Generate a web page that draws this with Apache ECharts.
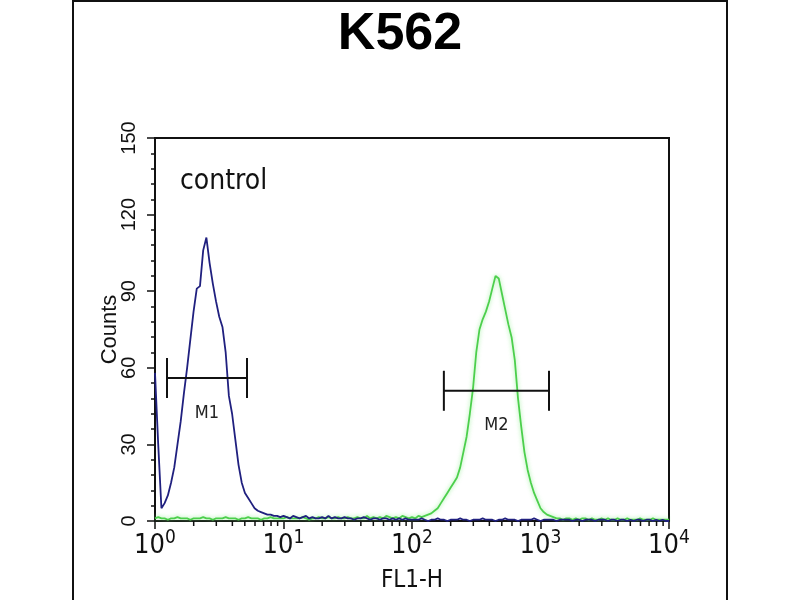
<!DOCTYPE html>
<html>
<head>
<meta charset="utf-8">
<title>K562</title>
<script src="https://cdn.jsdelivr.net/npm/echarts@6/dist/echarts.min.js"></script>
<style>
  html, body { margin: 0; padding: 0; background: #fff; }
  #main { width: 800px; height: 600px; }
</style>
</head>
<body>
<div id="main"></div>
<script>
// histogram channels: log-spaced, one every 0.025 decade from 10^0 to 10^4
var channelStep = 0.025;

var blueCounts = [
  58, 30, 5, 7, 10, 15, 21, 30, 39, 50,
  60, 71, 82, 91, 92, 106, 111, 101, 93, 86,
  80, 76, 66, 49, 42, 32, 22, 15, 11, 9,
  7, 5, 4, 3.5, 3, 2.5, 2.5, 2, 2, 1.5,
  2,
  1.5, 1, 2, 1.5, 1, 1.5, 2, 1, 1.5, 1, 1, 1.5, 1, 2, 1, 1.5, 1, 1, 1.5, 1,
  1, 0.5, 1, 1, 1.5, 1, 0.5, 1, 1, 0.5, 1, 1, 0.5, 1, 0.5, 1, 0.5, 1, 0.5, 0.5,
  0.5, 0.5, 1, 0.5, 0, 0.5, 0.5, 1, 0.5, 0.5,
  0, 0.5, 0.5, 0.5, 1, 0.5, 0.5, 0, 0.5, 0.5,
  0.5, 1, 0.5, 0.5, 0.5, 0, 0.5, 0.5, 1, 0.5,
  0.5, 0.5, 0, 0.5, 0.5, 0.5, 0.5, 1, 0.5, 0,
  0.5, 0.5, 0.5, 0.5, 0, 0.5, 0.5, 0.5, 0.5, 0,
  0.5, 0.5, 0, 0.5, 0.5, 0.5, 0, 0.5, 0.5, 0.5,
  0, 0.5, 0.5, 0, 0.5, 0.5, 0, 0.5, 0, 0.5,
  0.5, 0, 0.5, 0.5, 0, 0.5, 0, 0.5, 0, 0
];

var greenCounts = [
  1, 1.5, 1, 1, 0.5, 1, 1, 1.5, 1, 1,
  1, 0.5, 1, 1, 1, 1.5, 1, 1, 0.5, 1,
  1, 1, 1.5, 1, 1, 1, 0.5, 1, 1, 1.5,
  1, 1, 1, 0.5, 1, 1, 1.5, 1, 1, 1,
  1, 1.5, 1, 1, 1, 1, 1.5, 1, 0.5, 1,
  1, 1.5, 1, 1, 1.5, 1, 1, 1.5, 1, 1,
  1.5, 1, 1, 1.5, 1, 1, 2, 1, 1.5, 1,
  1.5, 1, 2, 1.5, 1, 1.5, 1, 2, 1.5, 1,
  1.5, 1, 2, 1.5, 2, 2.5, 3, 4, 5, 7,
  9, 11, 13, 15, 17, 21, 27, 33, 42, 52,
  66, 75, 79, 82, 86, 91, 96, 95, 89, 83,
  77, 72, 63, 48, 37, 27, 20, 15, 11, 8,
  5, 3.5, 2.5, 2, 1.5,
  1, 1, 0.5, 1, 1, 0.5, 1, 0.5, 1, 1,
  0.5, 1, 0.5, 0.5, 1, 0.5, 1, 0.5, 0.5, 1,
  0.5, 0.5, 1, 0.5, 0.5, 0.5, 1, 0.5, 0.5, 0.5,
  1, 0.5, 0.5, 0.5, 0.5, 0.5
];

// marker gates
var gateNames = ['M1', 'M2'];
var gateStart = [1.24, 177];
var gateEnd = [5.2, 1165];
var gateLevel = [56, 51];

var xMinorTicks = [];
[1, 10, 100, 1000].forEach(function (d) {
    [2, 3, 4, 5, 6, 7, 8, 9].forEach(function (m) { xMinorTicks.push(m * d); });
});

var narrow = "'Liberation Sans Narrow', 'DejaVu Sans Condensed', 'Liberation Sans', Arial, sans-serif";
var sans = "'Liberation Sans', Arial, sans-serif";

function toPairs(arr) {
    return arr.map(function (c, i) {
        return [Math.pow(10, i * channelStep), c];
    });
}

var gateData = gateNames.map(function (n, i) {
    return [gateStart[i], gateEnd[i], gateLevel[i], n];
});

var myChart = echarts.init(document.getElementById('main'));

myChart.setOption({
    backgroundColor: '#fff',
    animation: false,
    title: {
        text: 'K562',
        left: 'center',
        top: 4,
        textStyle: { fontFamily: sans, fontWeight: 'bold', fontSize: 52, color: '#000' }
    },
    graphic: [{
        type: 'rect',
        shape: { x: 73, y: 1, width: 654, height: 620 },
        style: { fill: 'none', stroke: '#111', lineWidth: 2 },
        silent: true
    }, {
        type: 'text',
        left: 180,
        top: 168,
        style: { text: 'control', font: '28px ' + narrow, fill: '#111' }
    }],
    grid: {
        left: 155, right: 131, top: 138, bottom: 79,
        show: true, borderColor: '#111', borderWidth: 2
    },
    xAxis: {
        type: 'log',
        logBase: 10,
        min: 1,
        max: 10000,
        name: 'FL1-H',
        nameLocation: 'middle',
        nameGap: 48,
        nameTextStyle: { fontFamily: narrow, fontSize: 24, color: '#111' },
        axisLine: { lineStyle: { color: '#111', width: 2 } },
        axisTick: { length: 8, lineStyle: { color: '#111', width: 1.5 } },
        splitLine: { show: false },
        axisLabel: {
            margin: 8,
            formatter: function (v) {
                return '{b|10}{s|' + Math.round(Math.log10(v)) + '}';
            },
            rich: {
                b: { fontFamily: narrow, fontSize: 27, color: '#111' },
                s: { fontFamily: narrow, fontSize: 19, color: '#111', padding: [0, 0, 14, 0] }
            }
        }
    },
    yAxis: {
        type: 'value',
        min: 0,
        max: 150,
        interval: 30,
        name: 'Counts',
        nameLocation: 'middle',
        nameRotate: 90,
        nameGap: 34,
        nameMoveOverlap: false,
        nameTextStyle: { fontFamily: sans, fontSize: 22, color: '#111' },
        axisLine: { show: true, lineStyle: { color: '#111', width: 2 } },
        axisTick: { show: true, length: 8, lineStyle: { color: '#111', width: 1.5 } },
        minorTick: { show: true, splitNumber: 5, length: 4, lineStyle: { color: '#111', width: 1.5 } },
        splitLine: { show: false },
        axisLabel: { rotate: 90, margin: 16, fontFamily: sans, fontSize: 20, color: '#111' }
    },
    series: [{
        type: 'line',
        name: 'stained',
        data: toPairs(greenCounts),
        showSymbol: false,
        lineStyle: { color: '#4ccf4c', width: 1.8, shadowColor: 'rgba(130,235,130,0.8)', shadowBlur: 4 },
        z: 3
    }, {
        type: 'line',
        name: 'control',
        data: toPairs(blueCounts),
        showSymbol: false,
        lineStyle: { color: '#20207f', width: 1.8 },
        z: 4
    }, {
        // minor ticks of the log axis (2..9 per decade)
        type: 'custom',
        silent: true,
        clip: false,
        z: 5,
        data: xMinorTicks.map(function (v) { return [v, 0]; }),
        renderItem: function (params, api) {
            var p = api.coord([api.value(0), 0]);
            return {
                type: 'line',
                shape: { x1: p[0], y1: p[1], x2: p[0], y2: p[1] + 5 },
                style: { stroke: '#111', lineWidth: 1.5 }
            };
        }
    }, {
        // M1 / M2 gates
        type: 'custom',
        silent: true,
        clip: false,
        z: 6,
        data: gateData,
        renderItem: function (params, api) {
            var a = api.coord([api.value(0), api.value(2)]);
            var b = api.coord([api.value(1), api.value(2)]);
            var mid = api.coord([Math.sqrt(api.value(0) * api.value(1)), api.value(2)]);
            var st = { stroke: '#111', lineWidth: 2 };
            return {
                type: 'group',
                children: [
                    { type: 'line', shape: { x1: a[0], y1: a[1], x2: b[0], y2: b[1] }, style: st },
                    { type: 'line', shape: { x1: a[0], y1: a[1] - 20, x2: a[0], y2: a[1] + 20 }, style: st },
                    { type: 'line', shape: { x1: b[0], y1: b[1] - 20, x2: b[0], y2: b[1] + 20 }, style: st },
                    {
                        type: 'text',
                        x: mid[0], y: mid[1] + 26,
                        style: {
                            text: gateData[params.dataIndex][3],
                            font: '18px ' + narrow,
                            fill: '#222',
                            align: 'center',
                            verticalAlign: 'top'
                        }
                    }
                ]
            };
        }
    }]
});
</script>
</body>
</html>
